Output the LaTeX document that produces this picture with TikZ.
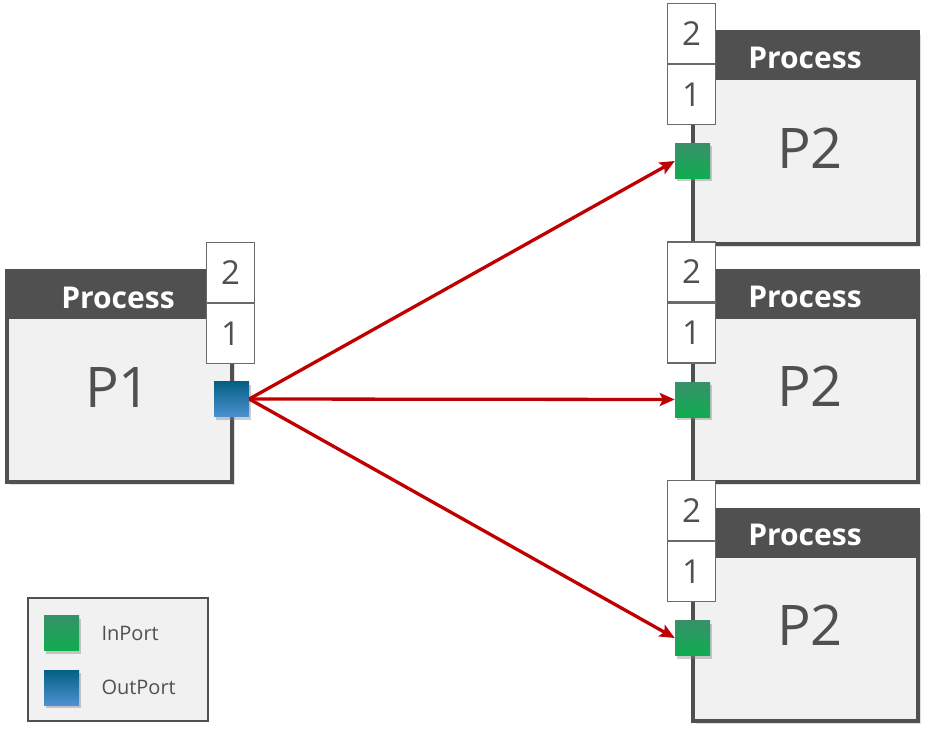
\documentclass[tikz,border=0pt]{standalone}
\usepackage{fontspec}
\setmainfont{Open Sans}
\usepackage{tikz}
\usetikzlibrary{
    positioning,           % Relative positioning
    arrows.meta,           % Modern arrow tips
    shadows,               % Drop shadows
    calc                   % Coordinate calculations
}

\definecolor{boxgray}{HTML}{505050}
\definecolor{bodygray}{HTML}{F1F1F1}
\definecolor{labgray}{HTML}{6A6A6A}
\definecolor{flowred}{HTML}{C00000}
\definecolor{intop}{RGB}{55,145,105}
\definecolor{inmid}{RGB}{55,152,50}
\definecolor{inbot}{RGB}{15,172,80}
\definecolor{outtop}{RGB}{5,95,130}
\definecolor{outmid}{RGB}{10,140,185}
\definecolor{outbot}{RGB}{75,145,210}

\begin{document}
\begin{tikzpicture}[x=1pt,y=-1pt,
    procbox/.style={draw=boxgray,fill=bodygray,line width=4pt,minimum width=225pt,minimum height=211pt,inner sep=0pt,
        drop shadow={opacity=0.25,shadow xshift=3pt,shadow yshift=-3pt}},
    hdrtext/.style={text=white,font=\fontsize{30}{30}\selectfont\bfseries},
    nametext/.style={text=boxgray,font=\fontsize{56}{56}\selectfont},
    portlab/.style={draw=labgray,fill=white,line width=1.3pt,minimum width=48pt,minimum height=60pt,inner sep=0pt,
        text=boxgray,font=\fontsize{33}{33}\selectfont},
    inport/.style={minimum size=35pt,inner sep=0pt,top color=intop,middle color=inmid,bottom color=inbot,
        drop shadow={opacity=0.4,shadow xshift=2pt,shadow yshift=-3pt}},
    outport/.style={minimum size=35pt,inner sep=0pt,top color=outtop,middle color=outmid,bottom color=outbot,
        drop shadow={opacity=0.4,shadow xshift=2pt,shadow yshift=-3pt}},
    flow/.style={draw=flowred,line width=3.3pt,-{Stealth[length=15pt,width=13pt,inset=3pt]}},
    legtext/.style={text=boxgray,font=\fontsize{20}{20}\selectfont,anchor=west}
]
    \useasboundingbox (0,0) rectangle (934,738);

    % P1
    \node[procbox] (p1) at (119,376.5) {};
    \fill[boxgray] (p1.north west) rectangle ($(p1.north east)+(0,50)$);
    \node[hdrtext] (p1hdr) at (118,298) {Process};
    \node[nametext] (p1name) at (118,388) {P1};
    \node[portlab] (p1lab2) at (230.5,272.5) {2};
    \node[portlab] (p1lab1) at (230.5,333.5) {1};
    \node[outport] (p1out) at (231.5,399) {};

    % P2 (three copies)
    \foreach \n/\dy in {a/0,b/238.5,c/477}{
        \node[procbox] (p2\n) at (805.5,138+\dy) {};
        \fill[boxgray] (p2\n.north west) rectangle ($(p2\n.north east)+(0,50)$);
        \node[hdrtext] (p2\n hdr) at (805,58+\dy) {Process};
        \node[nametext] (p2\n name) at (810,148+\dy) {P2};
    }
    \foreach \n/\dy in {a/0,b/238.5,c/477}{
        \node[portlab] (p2\n lab2) at (691.5,33.5+\dy) {2};
        \node[portlab] (p2\n lab1) at (691.5,94.5+\dy) {1};
        \node[inport] (p2\n in) at (692.5,161+\dy) {};
    }

    % connections
    \draw[flow] (p1out.east) -- (p2ain.west);
    \draw[flow] (p1out.east) -- (p2bin.west);
    \draw[flow] (p1out.east) -- (p2cin.west);

    % legend
    \node[draw=boxgray,fill=bodygray,line width=2pt,minimum width=180pt,minimum height=123pt,inner sep=0pt] (legend) at (118,659.5) {};
    \node[inport] (legin) at (61.5,633) {};
    \node[outport] (legout) at (61.5,687.5) {};
    \node[legtext] (legintext) at (98,633) {InPort};
    \node[legtext] (legouttext) at (98,687.5) {OutPort};
\end{tikzpicture}
\end{document}
